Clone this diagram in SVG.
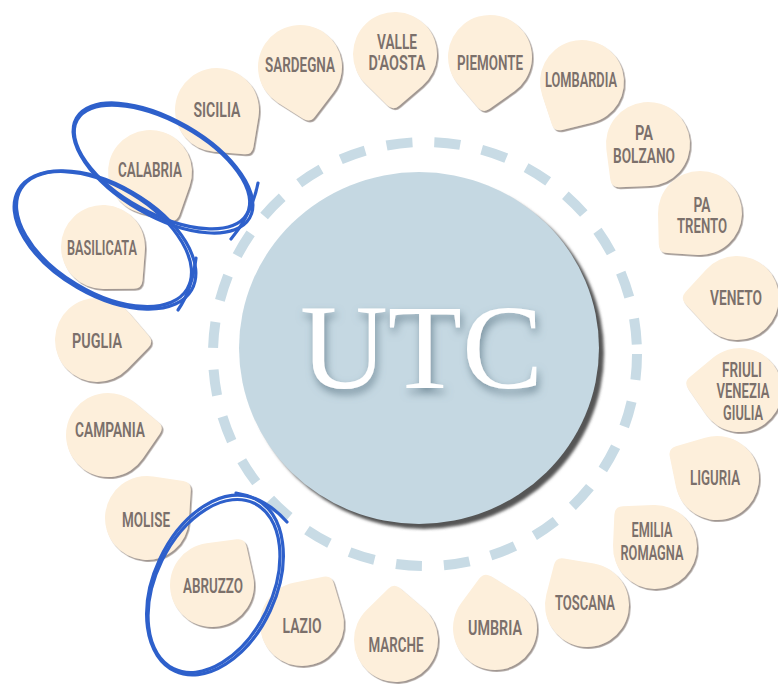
<svg xmlns="http://www.w3.org/2000/svg" xmlns:xlink="http://www.w3.org/1999/xlink" width="778" height="684" viewBox="0 0 778 684">
<defs>
<style>
.drop{fill:#fdefdb}
.t{font-family:Roboto,"Liberation Sans",sans-serif;font-weight:600;font-size:20px;fill:#7b706b;text-anchor:middle}
.hl{fill:none;stroke:#2e60cb;stroke-width:3.2;stroke-linecap:round}
</style>
<path id="drop" d="M30.97 -28.37 L51.5 -6 Q57 0 51.5 6 L30.97 28.37 A42 42 0 1 1 30.97 -28.37 Z"/>
<filter id="sh" x="-20%" y="-20%" width="140%" height="140%">
<feDropShadow dx="1.6" dy="1.8" stdDeviation="0.6" flood-color="#8f847e" flood-opacity="0.85"/>
</filter>
<filter id="csh" x="-10%" y="-10%" width="120%" height="120%">
<feGaussianBlur stdDeviation="1.5"/>
</filter>
<filter id="tsh" x="-20%" y="-30%" width="140%" height="160%">
<feDropShadow dx="2" dy="5" stdDeviation="4" flood-color="#5c7584" flood-opacity="0.75"/>
</filter>
</defs>
<rect width="778" height="684" fill="#ffffff"/>

<g id="ring">
<circle cx="425" cy="354" r="212" fill="none" stroke="#c8dbe5" stroke-width="10" stroke-dasharray="26 22"/>
</g>

<g id="utc">
<ellipse cx="424" cy="353" rx="180" ry="176" fill="#555" filter="url(#csh)"/>
<ellipse cx="419" cy="348" rx="180" ry="176" fill="#c5d8e2"/>
<text x="421.5" y="388" font-family="'Liberation Serif',serif" font-size="120" fill="#ffffff" text-anchor="middle" textLength="243" lengthAdjust="spacingAndGlyphs" filter="url(#tsh)">UTC</text>
</g>

<g id="n-sardegna"><g filter="url(#sh)"><use xlink:href="#drop" class="drop" transform="translate(300 67) rotate(80)"/></g><text class="t" x="300" y="72" textLength="70" lengthAdjust="spacingAndGlyphs">SARDEGNA</text></g>
<g id="n-valle"><g filter="url(#sh)"><use xlink:href="#drop" class="drop" transform="translate(395 54) rotate(92)"/></g><text class="t" x="397" y="49" textLength="40" lengthAdjust="spacingAndGlyphs">VALLE</text><text class="t" x="397" y="70" textLength="57" lengthAdjust="spacingAndGlyphs">D'AOSTA</text></g>
<g id="n-piemonte"><g filter="url(#sh)"><use xlink:href="#drop" class="drop" transform="translate(490 57) rotate(97)"/></g><text class="t" x="490" y="70" textLength="66" lengthAdjust="spacingAndGlyphs">PIEMONTE</text></g>
<g id="n-lombardia"><g filter="url(#sh)"><use xlink:href="#drop" class="drop" transform="translate(582 82) rotate(119)"/></g><text class="t" x="581" y="87" textLength="72" lengthAdjust="spacingAndGlyphs">LOMBARDIA</text></g>
<g id="n-bolzano"><g filter="url(#sh)"><use xlink:href="#drop" class="drop" transform="translate(648 144) rotate(130)"/></g><text class="t" x="644" y="140" textLength="18" lengthAdjust="spacingAndGlyphs">PA</text><text class="t" x="644" y="163" textLength="62" lengthAdjust="spacingAndGlyphs">BOLZANO</text></g>
<g id="n-trento"><g filter="url(#sh)"><use xlink:href="#drop" class="drop" transform="translate(700 213) rotate(136)"/></g><text class="t" x="702" y="212" textLength="17" lengthAdjust="spacingAndGlyphs">PA</text><text class="t" x="702" y="233" textLength="50" lengthAdjust="spacingAndGlyphs">TRENTO</text></g>
<g id="n-veneto"><g filter="url(#sh)"><use xlink:href="#drop" class="drop" transform="translate(737 298) rotate(180)"/></g><text class="t" x="736" y="305" textLength="52" lengthAdjust="spacingAndGlyphs">VENETO</text></g>
<g id="n-friuli"><g filter="url(#sh)"><use xlink:href="#drop" class="drop" transform="translate(740 390) rotate(188)"/></g><text class="t" x="742" y="377" textLength="40" lengthAdjust="spacingAndGlyphs">FRIULI</text><text class="t" x="743" y="398" textLength="53" lengthAdjust="spacingAndGlyphs">VENEZIA</text><text class="t" x="743" y="420" textLength="40" lengthAdjust="spacingAndGlyphs">GIULIA</text></g>
<g id="n-liguria"><g filter="url(#sh)"><use xlink:href="#drop" class="drop" transform="translate(717 478) rotate(211)"/></g><text class="t" x="715" y="485" textLength="50" lengthAdjust="spacingAndGlyphs">LIGURIA</text></g>
<g id="n-emilia"><g filter="url(#sh)"><use xlink:href="#drop" class="drop" transform="translate(655 547) rotate(225)"/></g><text class="t" x="652" y="537" textLength="41" lengthAdjust="spacingAndGlyphs">EMILIA</text><text class="t" x="652" y="560" textLength="63" lengthAdjust="spacingAndGlyphs">ROMAGNA</text></g>
<g id="n-toscana"><g filter="url(#sh)"><use xlink:href="#drop" class="drop" transform="translate(587 605) rotate(237)"/></g><text class="t" x="585" y="610" textLength="60" lengthAdjust="spacingAndGlyphs">TOSCANA</text></g>
<g id="n-umbria"><g filter="url(#sh)"><use xlink:href="#drop" class="drop" transform="translate(495 628) rotate(259)"/></g><text class="t" x="495" y="635" textLength="54" lengthAdjust="spacingAndGlyphs">UMBRIA</text></g>
<g id="n-marche"><g filter="url(#sh)"><use xlink:href="#drop" class="drop" transform="translate(396 640) rotate(268)"/></g><text class="t" x="396" y="652" textLength="55" lengthAdjust="spacingAndGlyphs">MARCHE</text></g>
<g id="n-lazio"><g filter="url(#sh)"><use xlink:href="#drop" class="drop" transform="translate(302 624) rotate(301)"/></g><text class="t" x="302" y="633" textLength="39" lengthAdjust="spacingAndGlyphs">LAZIO</text></g>
<g id="n-abruzzo"><g filter="url(#sh)"><use xlink:href="#drop" class="drop" transform="translate(212 585) rotate(305)"/></g><text class="t" x="213" y="593" textLength="60" lengthAdjust="spacingAndGlyphs">ABRUZZO</text></g>
<g id="n-molise"><g filter="url(#sh)"><use xlink:href="#drop" class="drop" transform="translate(147 518) rotate(321)"/></g><text class="t" x="146" y="527" textLength="48" lengthAdjust="spacingAndGlyphs">MOLISE</text></g>
<g id="n-campania"><g filter="url(#sh)"><use xlink:href="#drop" class="drop" transform="translate(108 435) rotate(352)"/></g><text class="t" x="110" y="437" textLength="70" lengthAdjust="spacingAndGlyphs">CAMPANIA</text></g>
<g id="n-puglia"><g filter="url(#sh)"><use xlink:href="#drop" class="drop" transform="translate(97 340) rotate(2)"/></g><text class="t" x="97" y="348" textLength="50" lengthAdjust="spacingAndGlyphs">PUGLIA</text></g>
<g id="n-basilicata"><g filter="url(#sh)"><use xlink:href="#drop" class="drop" transform="translate(103 247) rotate(47)"/></g><text class="t" x="102" y="255" textLength="70" lengthAdjust="spacingAndGlyphs">BASILICATA</text></g>
<g id="n-calabria"><g filter="url(#sh)"><use xlink:href="#drop" class="drop" transform="translate(150 172) rotate(62)"/></g><text class="t" x="150" y="177" textLength="64" lengthAdjust="spacingAndGlyphs">CALABRIA</text></g>
<g id="n-sicilia"><g filter="url(#sh)"><use xlink:href="#drop" class="drop" transform="translate(217 110) rotate(52)"/></g><text class="t" x="217" y="117" textLength="47" lengthAdjust="spacingAndGlyphs">SICILIA</text></g>

<g id="highlights">
<ellipse class="hl" cx="163" cy="168" rx="100" ry="48" transform="rotate(30 163 168)"/>
<ellipse class="hl" cx="162" cy="167" rx="97" ry="46" transform="rotate(29 162 167)"/>
<path class="hl" d="M258 183 Q252 214 231 239"/>
<ellipse class="hl" cx="105" cy="240" rx="100" ry="55" transform="rotate(30 105 240)"/>
<ellipse class="hl" cx="104" cy="239" rx="97" ry="53" transform="rotate(31 104 239)"/>
<path class="hl" d="M196 258 Q192 290 178 310"/>
<ellipse class="hl" cx="215" cy="585" rx="95" ry="61" transform="rotate(-65 215 585)"/>
<ellipse class="hl" cx="214" cy="586" rx="92" ry="58" transform="rotate(-64 214 586)"/>
<path class="hl" d="M236 493 Q266 498 287 522"/>
</g>
</svg>
